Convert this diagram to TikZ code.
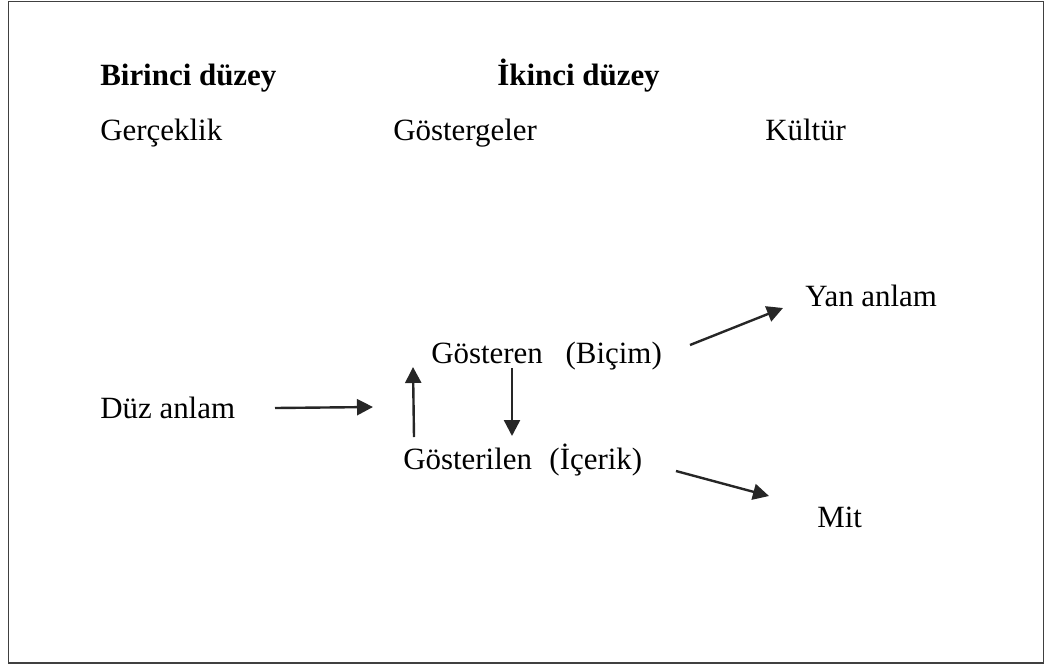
\documentclass[tikz,border=0pt]{standalone}
\usepackage{fontspec}
\setmainfont{Liberation Serif}
\usetikzlibrary{arrows.meta}
\begin{document}
\begin{tikzpicture}[x=0.75pt,y=-0.75pt,
  lbl/.style={anchor=base west,inner sep=0pt,font=\fontsize{23.2}{28}\selectfont},
  hd/.style={lbl,font=\fontsize{23.2}{28}\selectfont\bfseries},
  arr/.style={line width=1.8pt,black!85,-{Triangle[length=12pt,width=12pt]}}]
\useasboundingbox (0,0) rectangle (1048,668);
\draw[line width=1.2pt,black!75] (8.5,1.5) rectangle (1043.5,663);
\node[hd] (b1) at (100,85) {Birinci düzey};
\node[hd] (b2) at (497,85) {İkinci düzey};
\node[lbl] (g1) at (100,140) {Gerçeklik};
\node[lbl] (g2) at (393,140) {Göstergeler};
\node[lbl] (g3) at (765,140) {Kültür};
\node[lbl] (yan) at (805,306) {Yan anlam};
\node[lbl] (gos) at (431,363) {Gösteren\hspace{17pt}(Biçim)};
\node[lbl] (duz) at (100,418) {Düz anlam};
\node[lbl] (gosl) at (403,469) {Gösterilen\hspace{13pt}(İçerik)};
\node[lbl] (mit) at (817,527) {Mit};
\coordinate (a1s) at (275,408);
\coordinate (a1e) at (373,407);
\coordinate (a2s) at (414,437);
\coordinate (a2e) at (413,367);
\coordinate (a3s) at (512,368);
\coordinate (a3e) at (512,436);
\coordinate (a4s) at (690,345);
\coordinate (a4e) at (783,308);
\coordinate (a5s) at (676,471);
\coordinate (a5e) at (769,496);
\draw[arr] (a1s) -- (a1e);
\draw[arr] (a2s) -- (a2e);
\draw[arr] (a3s) -- (a3e);
\draw[arr] (a4s) -- (a4e);
\draw[arr] (a5s) -- (a5e);
\end{tikzpicture}
\end{document}
